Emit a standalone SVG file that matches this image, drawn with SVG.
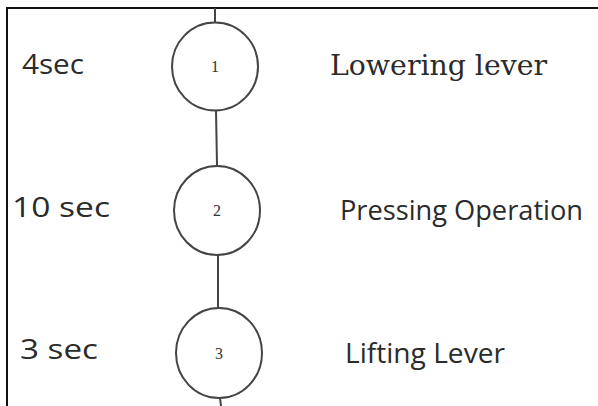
<svg xmlns="http://www.w3.org/2000/svg" width="598" height="406" viewBox="0 0 598 406">
  <style>
    .frame { stroke: #111; stroke-width: 2; fill: none; }
    .link { stroke: #444; stroke-width: 2; fill: none; }
    .step { stroke: #444; stroke-width: 2; fill: #fff; }
    .num { font-family: "Liberation Serif", serif; font-size: 16px; fill: #333; text-anchor: middle; }
    .time { font-family: "Open Sans", "Liberation Sans", sans-serif; font-size: 27px; fill: #2b2b2b; }
    .act { font-family: "Open Sans", "Liberation Sans", sans-serif; font-size: 27px; fill: #2b2b2b; }
    .act-serif { font-family: "DejaVu Serif", "Liberation Serif", serif; font-size: 28px; fill: #2b2b2b; }
  </style>
  <rect width="598" height="406" fill="#fff"/>
  <!-- frame: top and left edges only -->
  <path class="frame" d="M7 406 V8 H598"/>

  <g id="connectors">
    <line class="link" x1="215" y1="8" x2="215" y2="23"/>
    <line class="link" x1="216" y1="110" x2="217" y2="166"/>
    <line class="link" x1="218" y1="255" x2="218" y2="308"/>
    <line class="link" x1="220" y1="398" x2="221" y2="406"/>
  </g>

  <g id="step1">
    <ellipse class="step" cx="215" cy="66.5" rx="43" ry="44"/>
    <text class="num" x="215" y="72">1</text>
  </g>
  <g id="step2">
    <ellipse class="step" cx="217" cy="210.5" rx="43" ry="44.5"/>
    <text class="num" x="217" y="216">2</text>
  </g>
  <g id="step3">
    <ellipse class="step" cx="219" cy="353" rx="43" ry="45"/>
    <text class="num" x="219" y="359">3</text>
  </g>

  <g id="times">
    <text class="time" x="22" y="74" textLength="62" lengthAdjust="spacingAndGlyphs">4sec</text>
    <text class="time" x="12" y="217" textLength="98" lengthAdjust="spacingAndGlyphs">10 sec</text>
    <text class="time" x="20" y="359" textLength="78" lengthAdjust="spacingAndGlyphs">3 sec</text>
  </g>

  <g id="actions">
    <text class="act-serif" x="330" y="75" textLength="217" lengthAdjust="spacingAndGlyphs">Lowering lever</text>
    <text class="act" x="340" y="220" textLength="243" lengthAdjust="spacingAndGlyphs">Pressing Operation</text>
    <text class="act" x="345" y="363" textLength="160" lengthAdjust="spacingAndGlyphs">Lifting Lever</text>
  </g>
</svg>
